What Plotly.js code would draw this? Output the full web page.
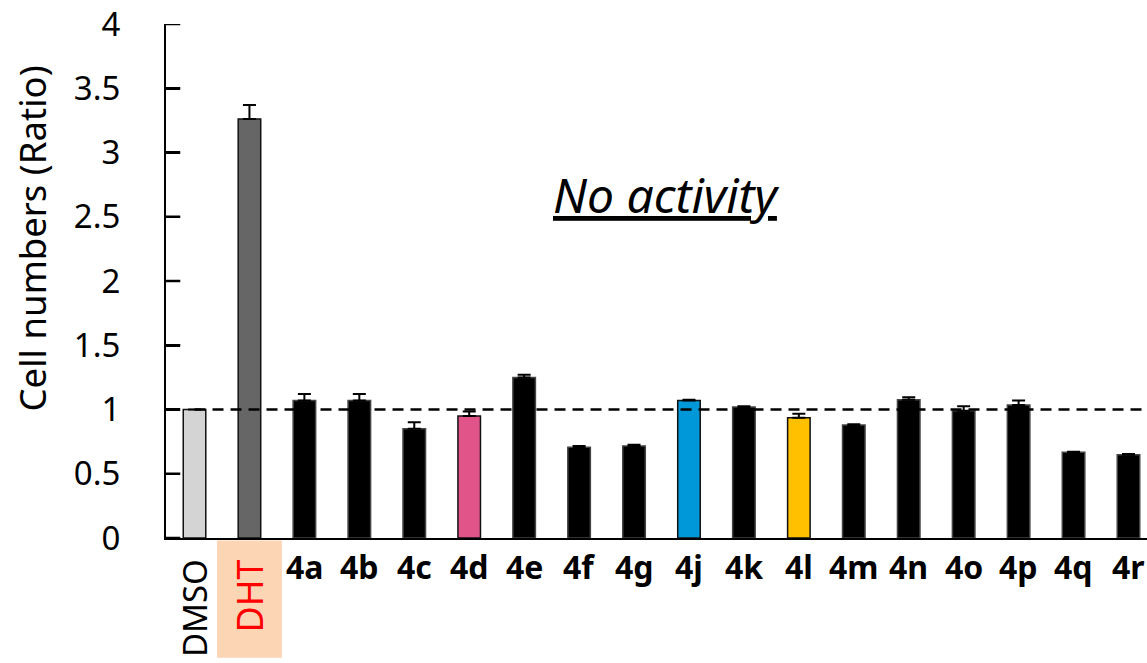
<!DOCTYPE html>
<html>
<head>
<meta charset="utf-8">
<script src="https://cdn.plot.ly/plotly-3.0.1.min.js"></script>
<style>html,body{margin:0;padding:0;background:#fff;}#chart{width:1147px;height:663px;}</style>
</head>
<body>
<div id="chart"></div>
<script>
const categories = ["DMSO","DHT","4a","4b","4c","4d","4e","4f","4g","4j","4k","4l","4m","4n","4o","4p","4q","4r"];
const ratios = [1.00,3.26,1.07,1.07,0.85,0.95,1.25,0.706,0.716,1.07,1.02,0.936,0.88,1.076,0.99,1.035,0.667,0.648];
const errors = [0,0.11,0.05,0.05,0.05,0.035,0.02,0.01,0.01,0.005,0.005,0.03,0.005,0.02,0.035,0.035,0.005,0.005];
const barColors = ["#d4d4d4","#666666","#000","#000","#000","#e0548a","#000","#000","#000","#0098d8","#000","#ffc000","#000","#000","#000","#000","#000","#000"];
const outlineColors = ["#111","#111","#444","#444","#444","#111","#444","#444","#444","#111","#444","#111","#444","#444","#444","#444","#444","#444"];
const yTicks = [0,0.5,1,1.5,2,2.5,3,3.5,4];
const yTickText = ["0","0.5","1","1.5","2","2.5","3","3.5","4"];
const rotatedLabels = ["DMSO","DHT"];
const labelColors = {"DMSO":"#000","DHT":"#ff0000"};
const baselineRatio = 1.0;
const noteText = "No activity";

const FONT = "Noto Sans, Open Sans, sans-serif";
const xIdx = categories.map((c,i)=>i);
const X_MIN = -0.519, X_MAX = 17.337;

const trace = {
  type: "bar",
  x: xIdx,
  y: ratios,
  width: 0.41,
  marker: {color: barColors, line: {color: outlineColors, width: 1.5}},
  error_y: {type: "data", symmetric: false, array: errors, arrayminus: errors.map(()=>0),
            color: "#000", thickness: 2, width: 6.5},
  hoverinfo: "x+y"
};

const annotations = categories.map((c,i)=>{
  if (rotatedLabels.includes(c)) {
    return {x: i, xref: "x", y: -0.038, yref: "paper", yanchor: "top", xanchor: "center",
      text: c, textangle: -90, showarrow: false,
      font: {family: FONT, size: c === "DMSO" ? 33 : 36, color: labelColors[c]}};
  }
  return {x: i, xref: "x", y: -0.01, yref: "paper", yanchor: "top", xanchor: "center",
    text: "<b>" + c + "</b>", showarrow: false,
    font: {family: FONT, size: 32, color: "#000"}};
});
annotations.push({x: -0.137, xref: "paper", y: 0.582, yref: "paper", xanchor: "center", yanchor: "middle",
  text: "Cell numbers (Ratio)", textangle: -90, showarrow: false,
  font: {family: FONT, size: 36.5, color: "#000"}});
annotations.push({x: 8.59, xref: "x", y: 2.67, yref: "y", xanchor: "center", yanchor: "middle",
  text: "<i><u>" + noteText + "</u></i>", showarrow: false,
  font: {family: FONT, size: 48, color: "#000"}});

// inward tick marks on the y axis, one per tick value
const tickShapes = yTicks.map(v=>({type: "line", xref: "x", yref: "y",
  x0: X_MIN, x1: X_MIN + 0.26, y0: v, y1: v, line: {color: "#000", width: 2.5}, layer: "above"}));

const layout = {
  width: 1147, height: 663,
  margin: {l: 166, r: 0, t: 24, b: 125},
  paper_bgcolor: "#fff", plot_bgcolor: "#fff",
  showlegend: false,
  xaxis: {range: [X_MIN, X_MAX], showticklabels: false, ticks: "", showgrid: false, zeroline: false,
          showline: true, linecolor: "#000", linewidth: 2, tickvals: xIdx},
  yaxis: {range: [0, 4], tickvals: yTicks, ticktext: yTickText, ticks: "inside", ticklen: 14, tickwidth: 2.5,
          tickcolor: "#000", ticklabelposition: "outside",
          showline: true, linecolor: "#000", linewidth: 2, showgrid: false, zeroline: false,
          tickfont: {family: FONT, size: 33, color: "#000"}, ticklabelstandoff: 37},
  shapes: [
    {type: "rect", xref: "x", yref: "paper", x0: 0.41, x1: 1.59, y0: -0.005, y1: -0.233,
     fillcolor: "#fcd5b4", line: {width: 0}, layer: "below"},
    {type: "line", xref: "x", yref: "y", x0: 0, x1: 18, y0: baselineRatio, y1: baselineRatio,
     line: {color: "#000", width: 2.5, dash: "11px,7px"}, layer: "above"}
  ].concat(tickShapes),
  annotations: annotations
};

Plotly.newPlot("chart", [trace], layout, {displayModeBar: false, staticPlot: true});
</script>
</body>
</html>
